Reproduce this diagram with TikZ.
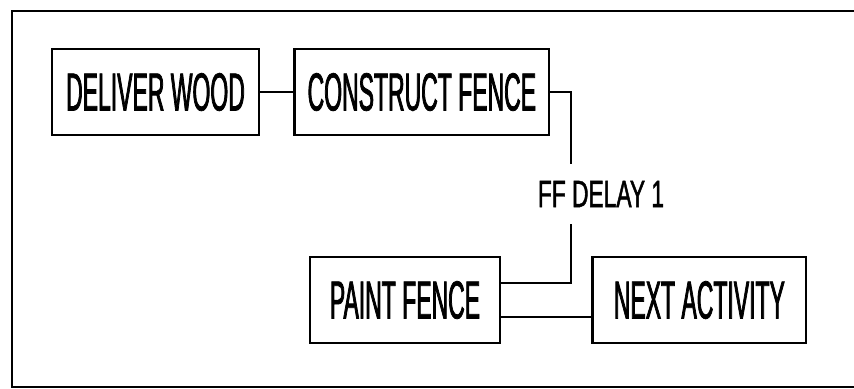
\documentclass[tikz,border=0pt]{standalone}
\usepackage{fontspec}
\usepackage{tikz}
\usetikzlibrary{positioning}
\newfontfamily\boxfont[FakeStretch=0.43, FakeBold=1.4]{Liberation Sans}
\newfontfamily\lagfont[FakeStretch=0.6, FakeBold=1.2]{Liberation Sans}

\tikzset{
    activity/.style={draw, line width=2pt, minimum height=2.15cm, inner sep=0pt,
        font=\boxfont\fontsize{38}{42}\selectfont},
    link/.style={line width=1.6pt}
}

\begin{document}
\begin{tikzpicture}[x=0.025cm, y=-0.025cm]
        \useasboundingbox (0,0) rectangle (854,388);
        \draw[line width=1.6pt] (854,11) -- (12,11) -- (12,387) -- (854,387);

        \node[activity, minimum width=5.175cm] (1) at (155.5,92) {DELIVER WOOD};
        \node[activity, minimum width=6.35cm] (2) [right=0.825cm of 1] {CONSTRUCT FENCE};
        \node[activity, minimum width=4.75cm] (3) at (405,300) {PAINT FENCE};
        \node[activity, minimum width=5.325cm] (4) [right=2.25cm of 3] {NEXT ACTIVITY};
        \node[font=\lagfont\fontsize{27}{30}\selectfont, inner xsep=0pt, inner ysep=0.42cm]
            (lag) at (601,194) {FF DELAY 1};

        \draw[link] (1.east) -- (1.east -| 2.west);
        \draw[link] (2.east) -| ([xshift=-0.75cm]lag.north);
        \draw[link] ([xshift=-0.75cm]lag.south) |- (3.10);
        \draw[link] (3.-10) -- (3.-10 -| 4.west);
    \end{tikzpicture}
\end{document}
